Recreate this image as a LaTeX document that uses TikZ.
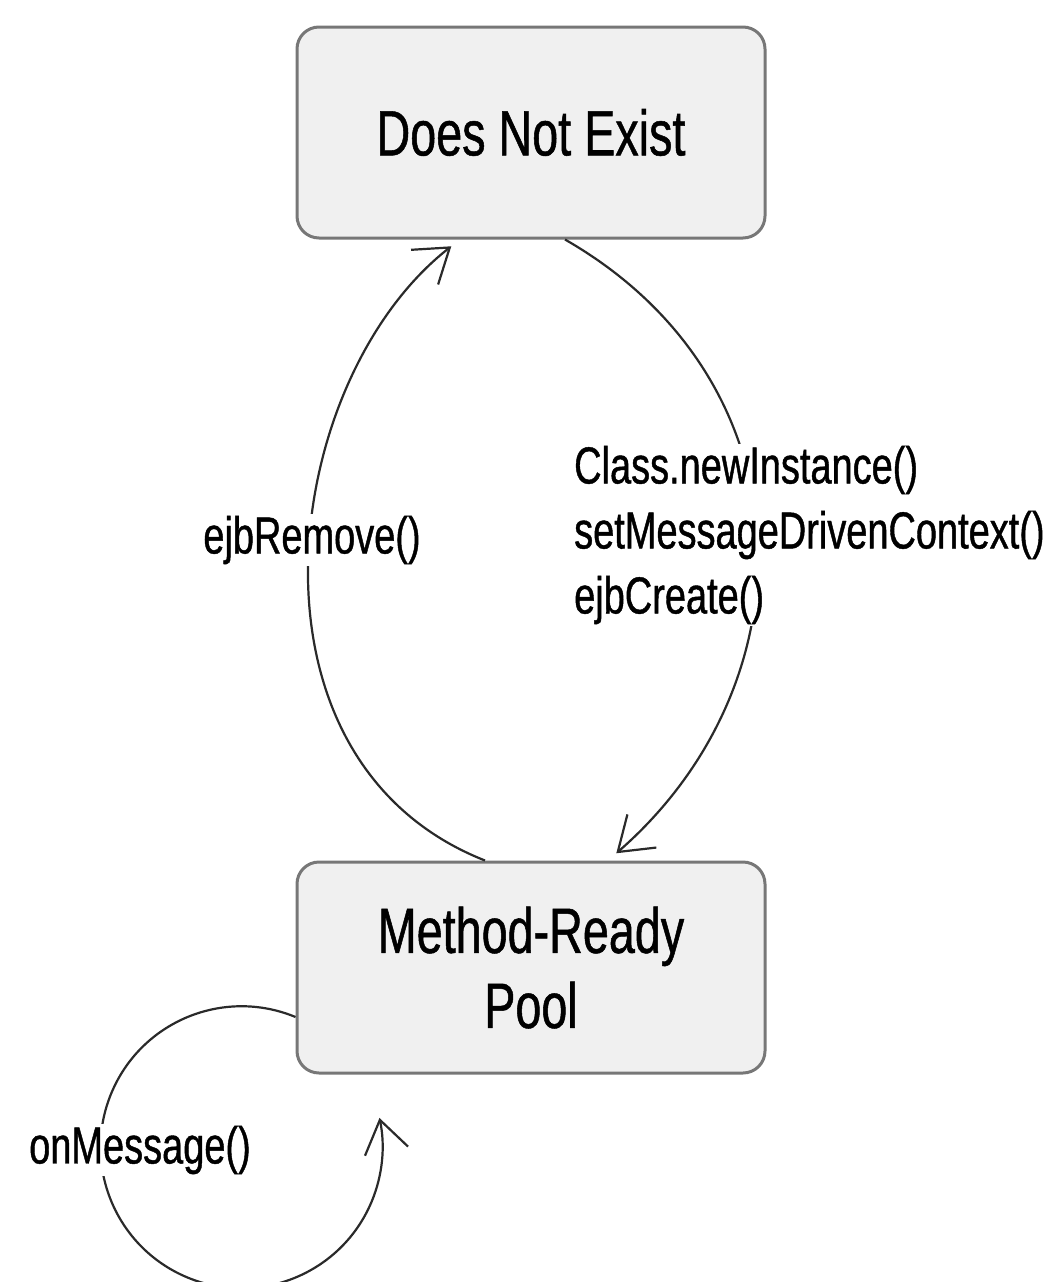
\documentclass[tikz,border=0pt]{standalone}
\usepackage{fontspec}
\setmainfont[FakeStretch=0.73,FakeBold=0.8]{Liberation Sans}
\usetikzlibrary{arrows.meta}
\definecolor{boxfill}{HTML}{F0F0F0}
\definecolor{boxline}{HTML}{777777}
\definecolor{arcline}{HTML}{2A2A2A}
\begin{document}
\begin{tikzpicture}[x=1pt,y=1pt,
  state/.style={draw=boxline, line width=3pt, fill=boxfill, rounded corners=22pt,
    minimum width=468pt, minimum height=211pt, align=center,
    font=\fontsize{64}{75}\selectfont, inner sep=0pt},
  lbl/.style={fill=white, inner sep=2pt, font=\fontsize{52}{65}\selectfont},
  trans/.style={draw=arcline, line width=2.2pt,
    -{Straight Barb[length=32pt,width=44pt,line width=2.2pt]}}]
\useasboundingbox (0,0) rectangle (1050,-1282);
\node[state] (dne) at (531,-132.5) {Does Not Exist};
\node[state] (pool) at (531,-967.5) {Method-Ready\\Pool};
\draw[trans, shorten >=11pt] ([xshift=34pt]dne.south) .. controls (810,-380) and (815,-680) .. ([xshift=77pt]pool.north);
\draw[trans, shorten >=11pt] ([xshift=-46pt]pool.north) .. controls (230,-760) and (280,-380) .. ([xshift=-71pt]dne.south);
\draw[trans] ([yshift=-49.5pt]pool.west) arc[start angle=67.5, end angle=372, radius=141pt];
\node[lbl] (rm) at (312,-540) {ejbRemove()};
\node[lbl, anchor=west, align=left] (cr) at (572,-535) {Class.newInstance()\\setMessageDrivenContext()\\ejbCreate()};
\node[lbl] (om) at (140,-1150) {onMessage()};
\end{tikzpicture}
\end{document}
